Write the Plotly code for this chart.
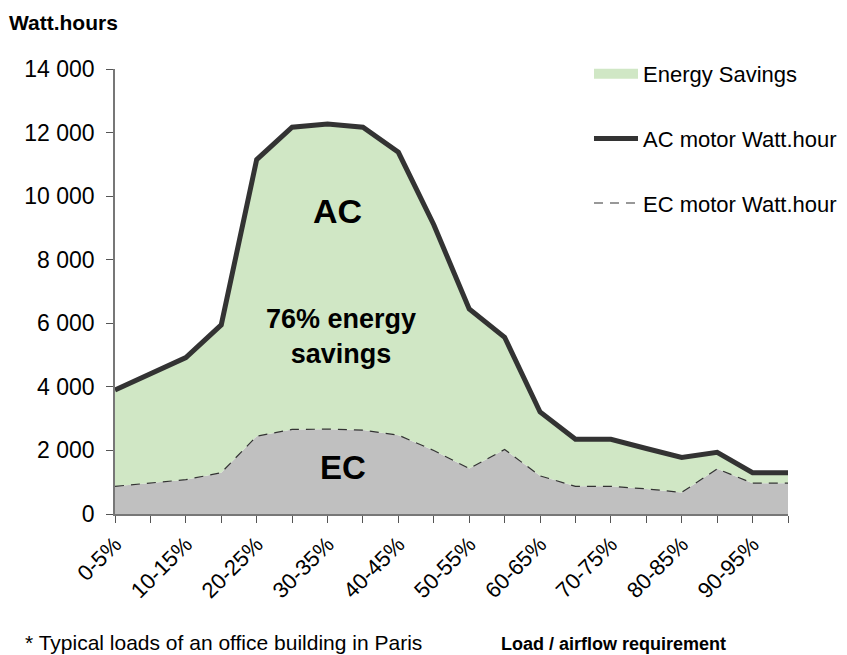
import plotly.graph_objects as go

categories = ["0-5%", "5-10%", "10-15%", "15-20%", "20-25%", "25-30%", "30-35%",
              "35-40%", "40-45%", "45-50%", "50-55%", "55-60%", "60-65%", "65-70%",
              "70-75%", "75-80%", "80-85%", "85-90%", "90-95%", "95-100%"]
ac_motor_wh = [3900, 4420, 4920, 5950, 11150, 12170, 12270, 12170, 11380, 9100,
               6450, 5560, 3210, 2350, 2350, 2060, 1780, 1940, 1300, 1300]
ec_motor_wh = [870, 970, 1080, 1300, 2450, 2660, 2670, 2640, 2480, 2000,
               1430, 2030, 1200, 870, 870, 790, 680, 1420, 970, 970]
y_ticks = [0, 2000, 4000, 6000, 8000, 10000, 12000, 14000]
y_tick_text = ["0", "2 000", "4 000", "6 000", "8 000", "10 000", "12 000", "14 000"]
x_tick_text = [c if i % 2 == 0 else "" for i, c in enumerate(categories)]

FONT = "Liberation Sans, Arial, sans-serif"
GREEN = "#D0E7C5"
GREY = "#C0C0C0"
DARK = "#333333"

fig = go.Figure()
fig.add_trace(go.Scatter(x=categories, y=ec_motor_wh, mode="lines", fill="tozeroy",
                         fillcolor=GREY, line=dict(width=0, color=GREY),
                         showlegend=False, hoverinfo="skip"))
fig.add_trace(go.Scatter(x=categories, y=ac_motor_wh, mode="lines", fill="tonexty",
                         fillcolor=GREEN, line=dict(width=0, color=GREEN),
                         name="Energy Savings", legendgroup="g1", showlegend=False))
# legend-only swatch for the savings area
fig.add_trace(go.Scatter(x=[None], y=[None], mode="lines",
                         line=dict(width=13, color=GREEN),
                         name="Energy Savings", legendgroup="g1"))
fig.add_trace(go.Scatter(x=categories, y=ac_motor_wh, mode="lines",
                         line=dict(width=5, color=DARK),
                         name="AC motor Watt.hour", legendgroup="g2"))
fig.add_trace(go.Scatter(x=categories, y=ec_motor_wh, mode="lines",
                         line=dict(width=1.2, color=DARK, dash="9px,7px"),
                         name="EC motor Watt.hour", legendgroup="g3"))

fig.update_layout(
    width=847, height=655,
    margin=dict(l=115, r=59, t=69, b=141, autoexpand=False),
    paper_bgcolor="white", plot_bgcolor="white",
    font=dict(family=FONT, size=22, color="black"),
    legend=dict(x=0.7043, y=1.036, xanchor="left", yanchor="top",
                traceorder="grouped", tracegroupgap=33, itemwidth=44,
                font=dict(size=22), bgcolor="rgba(0,0,0,0)"),
    xaxis=dict(type="category", range=[0, len(categories) - 1],
               tickmode="array", tickvals=categories, ticktext=x_tick_text,
               tickangle=-45, ticks="outside", ticklen=7, tickcolor="#555",
               showline=True, linecolor="#777", linewidth=1.5,
               showgrid=False, zeroline=False, tickfont=dict(size=22)),
    yaxis=dict(range=[0, 14000], tickmode="array", tickvals=y_ticks,
               ticktext=y_tick_text, ticks="outside", ticklen=7, tickcolor="#555",
               showline=True, linecolor="#777", linewidth=1.5,
               showgrid=False, zeroline=False, tickfont=dict(size=23),
               ticklabelstandoff=7),
    annotations=[
        dict(text="<b>Watt.hours</b>", xref="paper", yref="paper",
             x=-0.16, y=1.1056, xanchor="left", yanchor="middle",
             showarrow=False, font=dict(size=21)),
        dict(text="<b>AC</b>", xref="paper", yref="paper",
             x=0.331, y=0.682, xanchor="center", yanchor="middle",
             showarrow=False, font=dict(size=34)),
        dict(text="<b>76% energy<br>savings</b>", xref="paper", yref="paper",
             x=0.336, y=0.398, xanchor="center", yanchor="middle",
             showarrow=False, font=dict(size=27)),
        dict(text="<b>EC</b>", xref="paper", yref="paper",
             x=0.339, y=0.105, xanchor="center", yanchor="middle",
             showarrow=False, font=dict(size=33)),
        dict(text="* Typical loads of an office building in Paris", xref="paper",
             yref="paper", x=-0.136, y=-0.259, xanchor="left", yanchor="top",
             showarrow=False, font=dict(size=21)),
        dict(text="<b>Load / airflow requirement</b>", xref="paper", yref="paper",
             x=0.741, y=-0.292, xanchor="center", yanchor="middle",
             showarrow=False, font=dict(size=18)),
    ],
)

fig.write_html("out.html", config={"displayModeBar": False},
               post_script="document.body.style.margin='0';document.body.style.overflow='hidden';")
